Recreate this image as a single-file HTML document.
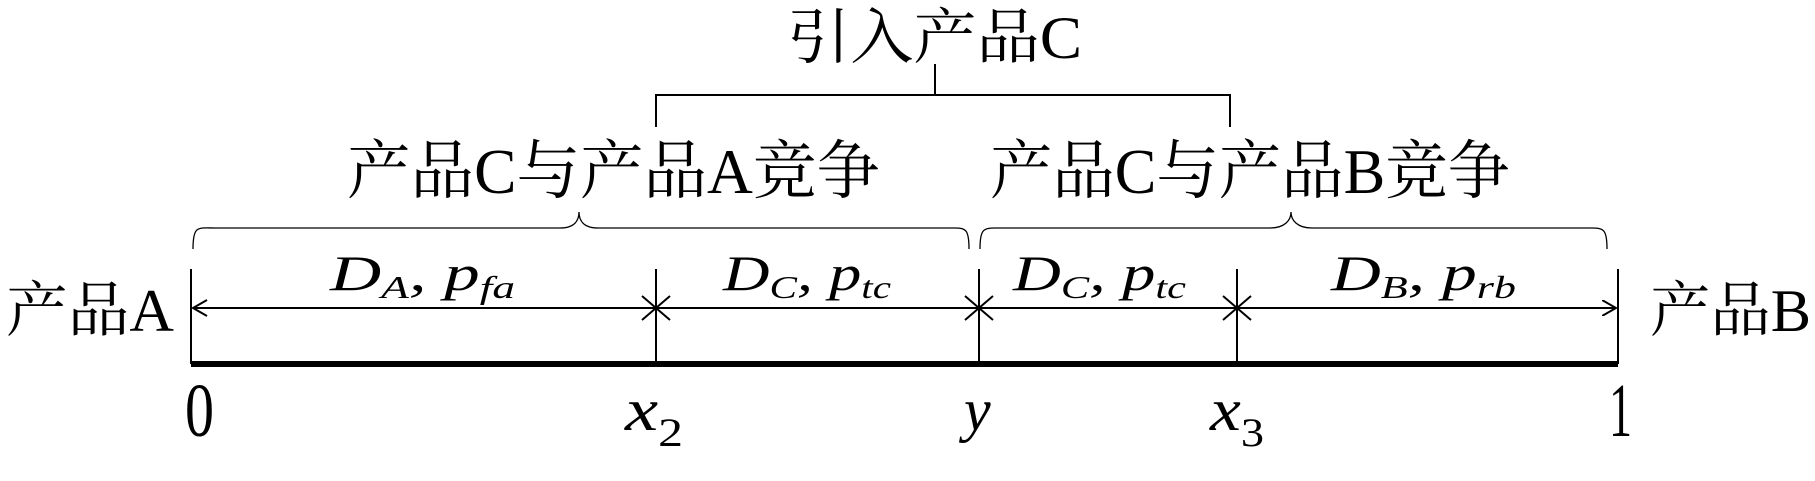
<!DOCTYPE html>
<html><head><meta charset="utf-8"><style>html,body{margin:0;padding:0;background:#fff}</style></head>
<body>
<svg width="1815" height="476" xmlns="http://www.w3.org/2000/svg" font-family="'Liberation Serif','Noto Serif CJK SC',serif">
<defs>
<marker id="a" markerWidth="16" markerHeight="16" refX="14" refY="8" orient="auto" markerUnits="userSpaceOnUse">
<path d="M0,0 L14,8 L0,16" fill="none" stroke="#000" stroke-width="2"/></marker>
</defs>
<g stroke="#000" fill="none">
<line x1="191" y1="364" x2="1618" y2="364" stroke-width="6"/>
<g stroke-width="2">
<line x1="191" y1="269" x2="191" y2="364"/>
<line x1="656" y1="269" x2="656" y2="364"/>
<line x1="979" y1="269" x2="979" y2="364"/>
<line x1="1237" y1="269" x2="1237" y2="364"/>
<line x1="1618" y1="269" x2="1618" y2="364"/>
<line x1="193" y1="308" x2="1616" y2="308" marker-end="url(#a)"/>
<path d="M207,300 L193,308 L207,316"/>
<path d="M642,296 L670,320 M642,320 L670,296"/>
<path d="M965,296 L993,320 M965,320 L993,296"/>
<path d="M1223,296 L1251,320 M1223,320 L1251,296"/>
<path d="M656,127 L656,95 L1230,95 L1230,127"/>
<line x1="935" y1="64" x2="935" y2="95"/>
</g>
<g stroke-width="1.3">
<path d="M193,249 C193,225 198,228 215,228 L560,228 C575,228 579,220 579,212 C579,220 583,228 598,228 L955,228 C966,228 969,230 969,249"/>
<path d="M980,249 C980,230 983,228 995,228 L1270,228 C1285,228 1291,220 1291,212 C1291,220 1297,228 1312,228 L1592,228 C1604,228 1607,230 1607,249"/>
</g>
</g>
<g fill="#000">
<text x="787" y="58" font-size="60" textLength="295" lengthAdjust="spacingAndGlyphs">引入产品C</text>
<text x="347" y="193" font-size="64" textLength="533" lengthAdjust="spacingAndGlyphs">产品C与产品A竞争</text>
<text x="990" y="193" font-size="64" textLength="520" lengthAdjust="spacingAndGlyphs">产品C与产品B竞争</text>
<text x="6" y="331" font-size="60" textLength="168" lengthAdjust="spacingAndGlyphs">产品A</text>
<text x="1650" y="331" font-size="60" textLength="161" lengthAdjust="spacingAndGlyphs">产品B</text>
<g font-style="italic" font-size="50">
<text x="330" y="290" textLength="185" lengthAdjust="spacingAndGlyphs">D<tspan font-size="32" dy="8">A</tspan><tspan dy="-8">, p</tspan><tspan font-size="32" dy="8">fa</tspan></text>
<text x="723" y="290" textLength="168" lengthAdjust="spacingAndGlyphs">D<tspan font-size="32" dy="8">C</tspan><tspan dy="-8">, p</tspan><tspan font-size="32" dy="8">tc</tspan></text>
<text x="1013" y="290" textLength="173" lengthAdjust="spacingAndGlyphs">D<tspan font-size="32" dy="8">C</tspan><tspan dy="-8">, p</tspan><tspan font-size="32" dy="8">tc</tspan></text>
<text x="1331" y="290" textLength="185" lengthAdjust="spacingAndGlyphs">D<tspan font-size="32" dy="8">B</tspan><tspan dy="-8">, p</tspan><tspan font-size="32" dy="8">rb</tspan></text>
</g>
<text x="185" y="436" font-size="76" textLength="29" lengthAdjust="spacingAndGlyphs">0</text>
<text x="1609" y="436" font-size="76" textLength="23" lengthAdjust="spacingAndGlyphs">1</text>
<text x="625" y="430" font-size="60" font-style="italic" textLength="58" lengthAdjust="spacingAndGlyphs">x<tspan font-size="40" dy="16" font-style="normal">2</tspan></text>
<text x="964" y="430" font-size="60" font-style="italic">y</text>
<text x="1210" y="430" font-size="60" font-style="italic" textLength="54" lengthAdjust="spacingAndGlyphs">x<tspan font-size="40" dy="16" font-style="normal">3</tspan></text>
</g>
</svg>
</body></html>
